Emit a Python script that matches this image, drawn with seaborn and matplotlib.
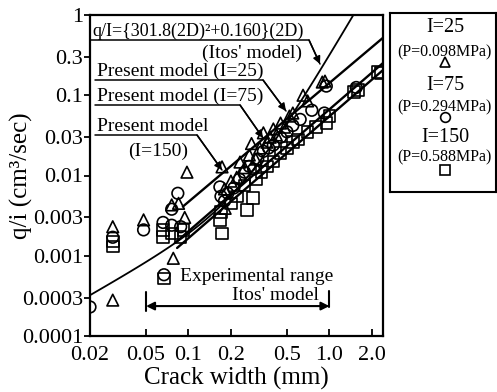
import numpy as np
import pandas as pd
import matplotlib
matplotlib.use("Agg")
import matplotlib.pyplot as plt
from matplotlib.lines import Line2D
from matplotlib.ticker import FixedLocator, FixedFormatter, NullLocator
import seaborn as sns

# ---------------- data ----------------
tri_x = [0.029, 0.029, 0.048, 0.078, 0.076, 0.094, 0.0975, 0.085,
         0.173, 0.182, 0.18, 0.20, 0.232, 0.22, 0.25, 0.27, 0.28, 0.30,
         0.32, 0.34, 0.36, 0.38, 0.40, 0.42, 0.45, 0.48, 0.52, 0.55,
         0.65, 0.70, 0.89, 0.93]
tri_y = [0.00028, 0.0023, 0.0028, 0.00093, 0.0043, 0.0030, 0.011, 0.0045,
         0.0128, 0.0039, 0.0068, 0.0085, 0.0147, 0.0095, 0.0125, 0.018, 0.025, 0.016,
         0.022, 0.034, 0.026, 0.030, 0.038, 0.032, 0.045, 0.040, 0.055, 0.060,
         0.100, 0.085, 0.146, 0.150]

cir_x = [0.02, 0.029, 0.048, 0.066, 0.076, 0.088, 0.084, 0.076, 0.067,
         0.167, 0.17, 0.18, 0.19, 0.21, 0.23, 0.25, 0.27, 0.29, 0.31, 0.34,
         0.37, 0.40, 0.45, 0.50, 0.55, 0.62, 0.75, 0.92, 0.95, 1.55]
cir_y = [0.00023, 0.0017, 0.0021, 0.0026, 0.0024, 0.0023, 0.0060, 0.0038, 0.00058,
         0.0072, 0.0055, 0.0048, 0.0060, 0.0070, 0.0090, 0.011, 0.013, 0.012, 0.016, 0.020,
         0.022, 0.024, 0.030, 0.035, 0.042, 0.050, 0.065, 0.060, 0.130, 0.125]

sq_x = [0.029, 0.029, 0.066, 0.066, 0.076, 0.088, 0.092, 0.067,
        0.167, 0.173, 0.17, 0.20, 0.22, 0.26, 0.286, 0.25, 0.30, 0.33, 0.36,
        0.40, 0.45, 0.50, 0.55, 0.60, 0.70, 0.80, 0.955, 1.0, 1.5, 1.6, 2.2, 2.3]
sq_y = [0.0013, 0.0015, 0.0021, 0.0017, 0.0019, 0.0017, 0.0021, 0.00052,
        0.0028, 0.0019, 0.0035, 0.0045, 0.0055, 0.0037, 0.0052, 0.0075, 0.009, 0.011, 0.013,
        0.015, 0.019, 0.022, 0.026, 0.028, 0.035, 0.040, 0.045, 0.055, 0.110, 0.116, 0.195, 0.190]

# Present model lines (end points)
pm25_x = [0.0912, 2.4]
pm25_y = [0.0041, 0.52]
pm75_x = [0.080, 2.4]
pm75_y = [0.00144, 0.252]
pm150_x = [0.083, 2.4]
pm150_y = [0.00125, 0.206]

# Itos' model: q/I = {301.8(2D)^2 + 0.160}(2D), 2D = crack width in cm
itos_a = 301.8
itos_b = 0.160
itos_w = np.geomspace(0.02, 1.6, 80)           # crack width (mm)
itos_q = (itos_a * (itos_w / 10) ** 2 + itos_b) * (itos_w / 10)

# experimental range of Itos' model (mm)
exp_range = [0.05, 1.0]
exp_level = 0.000236

x_ticks = [0.02, 0.05, 0.1, 0.2, 0.5, 1.0, 2.0]
x_tick_labels = ["0.02", "0.05", "0.1", "0.2", "0.5", "1.0", "2.0"]
y_ticks = [0.0001, 0.0003, 0.001, 0.003, 0.01, 0.03, 0.1, 0.3, 1]
y_tick_labels = ["0.0001", "0.0003", "0.001", "0.003", "0.01", "0.03", "0.1", "0.3", "1"]

series_names = ["I=25", "I=75", "I=150"]
pressures = ["(P=0.098MPa)", "(P=0.294MPa)", "(P=0.588MPa)"]

# ---------------- styling ----------------
sns.set_theme(style="white")
plt.rcParams["font.family"] = ["Liberation Serif", "DejaVu Serif"]
plt.rcParams["mathtext.fontset"] = "stix"

W, H = 497, 392
fig = plt.figure(figsize=(W / 100, H / 100), dpi=100)
fig.patch.set_facecolor("white")
ax = fig.add_axes([90 / W, 1 - 336 / H, 293 / W, 321 / H])
ax.set_xscale("log")
ax.set_yscale("log")

df = pd.DataFrame({
    "width": tri_x + cir_x + sq_x,
    "q": tri_y + cir_y + sq_y,
    "series": ["I=25"] * len(tri_x) + ["I=75"] * len(cir_x) + ["I=150"] * len(sq_x),
})
sns.scatterplot(data=df, x="width", y="q", style="series",
                markers={"I=25": "^", "I=75": "o", "I=150": "s"},
                s=70, facecolor="none", edgecolor="black", linewidth=1.2,
                legend=False, ax=ax, clip_on=True, zorder=3)

for xs, ys in [(pm25_x, pm25_y), (pm75_x, pm75_y), (pm150_x, pm150_y)]:
    sns.lineplot(x=xs, y=ys, color="black", linewidth=1.7, ax=ax,
                 estimator=None, sort=False, zorder=4)
sns.lineplot(x=itos_w, y=itos_q, color="black", linewidth=1.3, ax=ax,
             estimator=None, sort=False, zorder=4)

ax.set_xlim(0.02, 2.4)
ax.set_ylim(0.0001, 1)
ax.xaxis.set_major_locator(FixedLocator(x_ticks))
ax.xaxis.set_major_formatter(FixedFormatter(x_tick_labels))
ax.xaxis.set_minor_locator(NullLocator())
ax.yaxis.set_major_locator(FixedLocator(y_ticks))
ax.yaxis.set_major_formatter(FixedFormatter(y_tick_labels))
ax.yaxis.set_minor_locator(NullLocator())
ax.tick_params(axis="x", direction="in", length=5, width=1.3, labelsize=16, pad=7, colors="black")
ax.tick_params(axis="y", direction="out", length=4, width=1.3, labelsize=16, pad=1, colors="black")
ax.tick_params(left=True, bottom=True)
for sp in ax.spines.values():
    sp.set_linewidth(1.6)
    sp.set_color("black")
    sp.set_visible(True)
ax.set_xlabel("Crack width (mm)", fontsize=18, color="black")
ax.set_ylabel("q/i (cm³/sec)", fontsize=18, color="black")
ax.xaxis.set_label_coords(0.5, -0.097)
ax.yaxis.set_label_coords(-0.195, 0.5)

# experimental range arrow (data coords)
ax.annotate("", xy=(exp_range[0], exp_level), xytext=(exp_range[1], exp_level),
            arrowprops=dict(arrowstyle="<|-|>", color="black", lw=1.5,
                            shrinkA=0, shrinkB=0, mutation_scale=12))
ax.plot([exp_range[0], exp_range[0]], [0.000205, 0.00035], color="black", lw=1.5)
ax.plot([exp_range[1], exp_range[1]], [0.00023, 0.00036], color="black", lw=1.5)

# ---------------- annotations (figure pixel layout) ----------------
def fpt(px, py):
    return (px / W, 1 - py / H)

def poly(pts, arrow=False):
    xs = [p[0] / W for p in pts]
    ys = [1 - p[1] / H for p in pts]
    fig.add_artist(Line2D(xs, ys, transform=fig.transFigure, color="black", lw=1.1))
    if arrow:
        ax.annotate("", xy=fpt(*pts[-1]), xytext=fpt(*pts[-2]),
                    xycoords="figure fraction", textcoords="figure fraction",
                    arrowprops=dict(arrowstyle="-|>", color="black", lw=1.1,
                                    shrinkA=0, shrinkB=0, mutation_scale=11))

def txt(px, py, s, size, ha="left"):
    fig.text(px / W, 1 - py / H, s, fontsize=size, ha=ha, va="baseline", color="black")

txt(92, 36, "q/I={301.8(2D)²+0.160}(2D)", 13)
poly([(91, 40), (309, 40), (320, 64)], arrow=True)
txt(252, 58, "(Itos' model)", 14, ha="center")

txt(97, 76, "Present model (I=25)", 14)
poly([(95, 80), (263, 80), (286, 111)], arrow=True)

txt(97, 101, "Present model (I=75)", 14)
poly([(95, 105), (240, 105), (263, 138)], arrow=True)

txt(97, 131, "Present model", 14)
txt(158, 156, "(I=150)", 14, ha="center")
poly([(95, 135), (197, 135), (222, 170)], arrow=True)

txt(180, 281, "Experimental range", 14)
txt(232, 300, "Itos' model", 14)

# ---------------- legend box ----------------
lx0, ly0, lw_, lh_ = 390, 13, 106, 179
lax = fig.add_axes([lx0 / W, 1 - (ly0 + lh_) / H, lw_ / W, lh_ / H])
lax.set_xlim(0, lw_)
lax.set_ylim(lh_, 0)
lax.set_xticks([])
lax.set_yticks([])
for sp in lax.spines.values():
    sp.set_linewidth(1.5)
    sp.set_color("black")
    sp.set_visible(True)
mk = ["^", "o", "s"]
rows = [(14, 39, 49), (72, 94, 104), (125, 144, 157)]
for name, pr, m, (yt, yp, ym) in zip(series_names, pressures, mk, rows):
    lax.text(55, yt, name, fontsize=14.5, ha="center", va="center", color="black")
    lax.text(54, yp, pr, fontsize=11.5, ha="center", va="center", color="black")
    lax.plot([55], [ym], marker=m, markersize=7, markerfacecolor="none",
             markeredgecolor="black", markeredgewidth=1.2, linestyle="none")

fig.savefig("out.png", dpi=100, facecolor="white")
